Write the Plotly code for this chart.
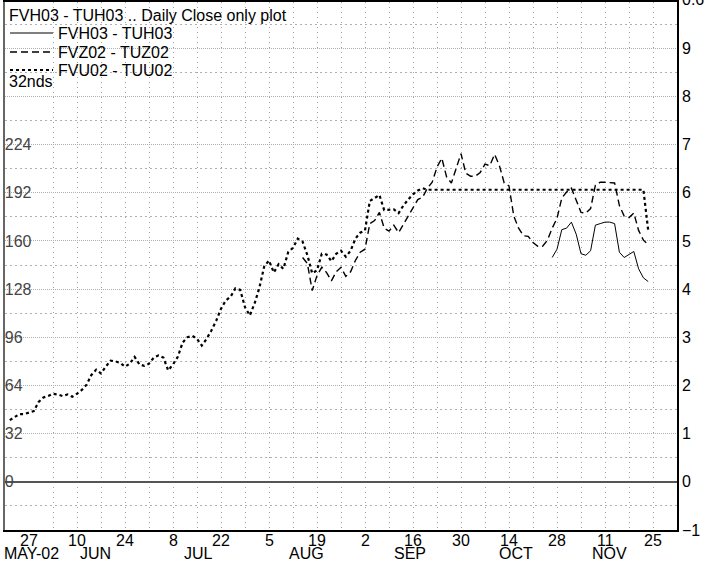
import plotly.graph_objects as go
import pandas as pd

# ---------------- data (values in 32nds) ----------------
fvu_start = "2002-05-21"   # FVU02 - TUU02 (dotted)
fvu = [41, 43, 45, 45, 46, 47, 53, 56, 57, 58.5, 58, 57, 58, 56.5, 58.5, 61, 64.5, 71, 74.5, 72,
       76.5, 80.5, 80, 79, 76.5, 78.5, 83, 78, 77, 78.5, 82.5, 84, 82.5, 74, 78, 83, 92.5, 96, 97, 95,
       90.5, 95, 100.5, 107, 115, 120.5, 123, 128.5, 127.5, 116, 110.5, 118.5, 129, 143, 147, 139, 144.5, 141.5, 152.5, 155.5,
       161.5, 159.5, 150.5, 138.5, 140.5, 151.5, 151, 146.5, 151.5, 153.5, 149.5, 153.5, 161.5, 165.5, 167, 186.5, 188.5, 190.5, 180.5, 180.5,
       181, 178.5, 183.5, 187.5, 191, 193.5, 195,
       194, 194, 194, 194, 194, 194, 194, 194, 194, 194, 194, 194, 194, 194, 194, 194,
       194, 194, 194, 194, 194, 194, 194, 194, 194, 194, 194, 194, 194, 194, 194, 194,
       194, 194, 194, 194, 194, 194, 194, 194, 194, 194, 194, 194, 194, 194,
       167]

fvz_start = "2002-08-14"   # FVZ02 - TUZ02 (dashed)
fvz = [149, 145, 127, 137, 142.5, 139, 133.5, 139.5, 142.5, 136.5, 139.5, 147, 152.5, 154.5, 171.5, 173.5, 179, 168.5, 166.5, 170.5,
       165.5, 171, 176.5, 181.5, 187.5, 189, 195, 199, 209, 215, 202.5, 198.5, 208, 218, 205, 203, 203, 205.5, 211, 210,
       217.5, 210, 198.5, 196.5, 176.5, 168.5, 163.5, 163, 159, 156.5, 156.5, 160.5, 168.5, 175, 188.5, 192.5, 195, 187, 179, 178.5,
       181.5, 197, 199, 199, 198.5, 198.5, 183.5, 176.5, 175.5, 178.5, 167, 160.5, 157.5]

fvh_start = "2002-10-25"   # FVH03 - TUH03 (solid)
fvh = [149, 154.5, 167.5, 168.5, 172.5, 164.5, 151.5, 150.5, 153.5, 170.5, 171.5, 172.5, 172.5, 171.5, 152.5, 149, 151, 153,
       141.5, 135.5, 133]

series_names = ["FVH03 - TUH03", "FVZ02 - TUZ02", "FVU02 - TUU02"]
title_text = "FVH03 - TUH03 .. Daily Close only plot"
unit_text = "32nds"

x_start, x_end = "2002-05-20", "2002-12-02"
tick_dates = list(pd.date_range("2002-05-27", "2002-11-25", freq="14D"))
tick_days = ["27", "10", "24", "8", "22", "5", "19", "2", "16", "30", "14", "28", "11", "25"]
minor_dates = list(pd.date_range("2002-06-03", "2002-11-18", freq="14D"))
month_labels = ["MAY-02", "JUN", "JUL", "AUG", "SEP", "OCT", "NOV"]

left_ticks = [-32, 0, 32, 64, 96, 128, 160, 192, 224, 256, 288]
left_text = ["", "0", "32", "64", "96", "128", "160", "192", "224", "", ""]
right_ticks = [-1, 0, 1, 2, 3, 4, 5, 6, 7, 8, 9]
y_top = 318.7

# ---------------- layout helpers ----------------
W, H = 709, 563
L, R, T, B = 5, 32, 2, 33
PW, PH = W - L - R, H - T - B
def px(x):
    return (x - L) / PW
def py(y):
    return (H - B - y) / PH

FONT = "Liberation Sans, Arial, Helvetica, sans-serif"
styles = [dict(color="black", width=1),
          dict(color="black", width=1.4, dash="7px,4px"),
          dict(color="black", width=2.2, dash="3px,3px")]

fig = go.Figure()
for name, start, vals, st in zip(series_names, [fvh_start, fvz_start, fvu_start], [fvh, fvz, fvu], styles):
    fig.add_trace(go.Scatter(x=pd.bdate_range(start, periods=len(vals)), y=vals, mode="lines",
                             line=st, name=name, showlegend=False))
# anchor trace for right axis
fig.add_trace(go.Scatter(x=[pd.Timestamp(fvu_start)], y=[None], yaxis="y2", showlegend=False, hoverinfo="skip"))

annotations = []
# day-of-month labels under the bi-weekly ticks
for d, lab in zip(tick_dates, tick_days):
    annotations.append(dict(xref="x", yref="paper", x=d, y=py(540), text=lab, showarrow=False,
                            xanchor="center", yanchor="middle", font=dict(size=16)))

# month labels centred on the month's business days shown (last data day caps the final month)
all_days = pd.bdate_range(x_start, x_end)[:-1]
n_days = len(all_days)
last_data = pd.bdate_range(fvu_start, periods=len(fvu))[-1]
months = sorted(set((d.year, d.month) for d in all_days))
for (yy, mm), lab in zip(months, month_labels):
    idx = [i for i, d in enumerate(all_days) if d.year == yy and d.month == mm and d <= last_data]
    mid = (idx[0] + idx[-1]) / 2
    if lab == month_labels[0]:
        annotations.append(dict(xref="paper", yref="paper", x=px(2), y=py(553), text=lab, showarrow=False,
                                xanchor="left", yanchor="middle", font=dict(size=16)))
    else:
        annotations.append(dict(xref="paper", yref="paper", x=mid / n_days, xshift=-3, y=py(553), text=lab,
                                showarrow=False, xanchor="center", yanchor="middle", font=dict(size=16)))

annotations.append(dict(xref="paper", yref="paper", x=px(7), y=py(16), text=title_text, showarrow=False,
                        xanchor="left", yanchor="middle", font=dict(size=16)))
shapes = []
for k, (name, st) in enumerate(zip(series_names, styles)):
    yl = [33, 52, 70][k]
    annotations.append(dict(xref="paper", yref="paper", x=px(56), y=py(yl), text=name, showarrow=False,
                            xanchor="left", yanchor="middle", font=dict(size=16)))
    shapes.append(dict(type="line", xref="paper", yref="paper", x0=px(10), x1=px(53), y0=py(yl), y1=py(yl),
                       line=st))
annotations.append(dict(xref="paper", yref="paper", x=px(7), y=py(82), text=unit_text, showarrow=False,
                        xanchor="left", yanchor="middle", font=dict(size=16)))
annotations.append(dict(xref="paper", yref="paper", x=1, xshift=3, y=py(0), text="0.6", showarrow=False,
                        xanchor="left", yanchor="middle", font=dict(size=16)))

fig.update_layout(
    width=W, height=H, margin=dict(l=L, r=R, t=T, b=B, pad=0, autoexpand=False),
    paper_bgcolor="white", plot_bgcolor="white", showlegend=False,
    font=dict(family=FONT, size=16, color="black"),
    xaxis=dict(type="date", range=[x_start, x_end], rangebreaks=[dict(bounds=["sat", "mon"])],
               tickmode="array", tickvals=tick_dates, ticktext=tick_days, ticks="", showticklabels=False,
               showgrid=True, gridcolor="#a0a0a0", gridwidth=1, griddash="1px,4px",
               minor=dict(tickvals=minor_dates, showgrid=True, gridcolor="#a0a0a0", gridwidth=1, griddash="1px,4px", ticks=""),
               showline=True, mirror=True, linecolor="black", linewidth=2, zeroline=False,
               tickfont=dict(size=16)),
    yaxis=dict(range=[-32, y_top], tickmode="array", tickvals=left_ticks, ticktext=left_text, ticks="",
               ticklabelposition="inside", showgrid=True, gridcolor="#b0b0b0", gridwidth=1, griddash="1px,1px",
               minor=dict(tickvals=[v + 16 for v in left_ticks], showgrid=True, gridcolor="#b0b0b0",
                          gridwidth=1, griddash="2px,3px", ticks=""),
               zeroline=True, zerolinecolor="#555", zerolinewidth=2,
               showline=True, linecolor="#666", linewidth=2, tickfont=dict(size=16)),
    yaxis2=dict(overlaying="y", side="right", range=[-1, y_top / 32], tickmode="array", tickvals=right_ticks,
                ticks="", showgrid=False, zeroline=False, showline=True, linecolor="black", linewidth=1.5,
                tickfont=dict(size=16)),
    annotations=annotations, shapes=shapes,
)

fig.write_html("out.html", config={"displayModeBar": False},
               post_script="document.body.style.margin='0';document.body.style.padding='0';")
